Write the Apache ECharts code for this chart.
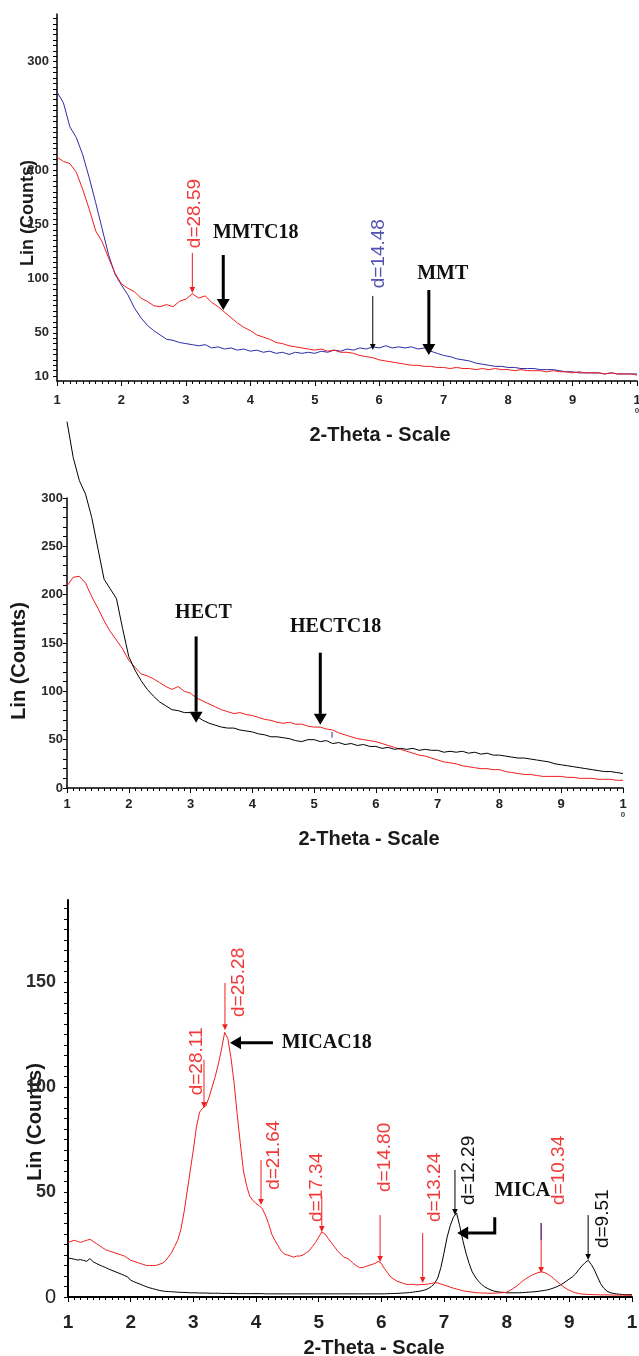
<!DOCTYPE html>
<html>
<head>
<meta charset="utf-8">
<script src="https://cdn.jsdelivr.net/npm/echarts@6/dist/echarts.min.js"></script>
<style>
html,body{margin:0;padding:0;background:#fff;}
#c{width:639px;height:1356px;}
</style>
</head>
<body>
<div id="c"></div>
<script>
// ---------------- DATA ----------------
// sampling grids (2-theta, degrees)
const theta12 = Array.from({length: 91}, (_, i) => Math.round((1 + i * 0.1) * 100) / 100);
const theta3 = Array.from({length: 181}, (_, i) => Math.round((1 + i * 0.05) * 100) / 100);

const xTickValues = [1, 2, 3, 4, 5, 6, 7, 8, 9, 10];

// Panel 1 : MMT (blue) and MMTC18 (red)
const mmtCounts = [
  272,262,240,230,214,193,170,146,122,104,
  94,85,73,64,57,52,48,44,43,41,
  40,39,38,39,36,37,35,36,34,35,
  33,34,32,33,31,32,30,32,31,32,
  31,33,32,34,33,35,34,36,35,37,
  36,38,36,37,36,37,35,36,33,31,
  29,28,26,25,24,22,21,20,19,19,
  18,18,17,17,17,16,16,16,15,14,
  14,13,13,13,13,12,13,12,12,12,
  12];
const mmtC18Counts = [
  212,208,206,198,182,164,144,134,119,105,
  95,91,88,82,79,75,74,76,74,79,
  81,86,82,84,78,74,69,64,59,55,
  52,48,46,44,41,40,38,37,36,35,
  34,35,33,34,32,32,31,29,28,27,
  25,24,23,22,21,20,20,19,19,18,
  18,17,18,17,17,16,17,16,17,16,
  16,15,16,15,15,15,14,15,14,14,
  13,14,13,13,13,12,13,12,12,12,
  11];

// Panel 2 : HECT (black) and HECTC18 (red)
const hectCounts = [
  379,342,318,304,280,248,216,206,196,165,
  136,122,111,102,95,89,85,81,80,78,
  78,74,70,67,65,63,62,62,60,59,
  58,56,55,53,53,52,51,49,48,50,
  50,48,49,46,47,45,46,44,45,43,
  43,41,42,40,41,40,41,39,40,39,
  39,37,38,37,38,36,37,35,36,34,
  34,33,32,31,31,30,29,28,27,25,
  24,23,22,21,20,19,18,17,17,16,
  15];
const hectC18Counts = [
  209,218,219,212,198,186,173,162,153,144,
  132,125,118,116,113,109,105,102,105,100,
  98,93,90,87,84,81,79,77,78,76,
  75,73,71,70,68,67,68,66,66,64,
  63,63,61,60,57,55,53,51,50,49,
  48,46,44,42,40,38,36,34,33,31,
  29,27,26,25,23,22,21,20,20,19,
  19,17,16,15,14,14,13,12,12,12,
  12,11,11,10,10,10,9,9,9,8,
  8];

// Panel 3 : MICA (black) and MICAC18 (red), step 0.05
const micaC18Counts = [
  26,26.5,27,26.5,26,26.5,27,27.5,26.5,25.5,24.5,23.5,22.5,22,21.5,21,20.5,20,19.5,18.5,
  17.5,17,16.5,16,15.5,15,15,15,15,15.5,16,17,19,21,24,27,32,40,50,60,
  70,81,88,90,91,95,100,105,111,118,126,123,114,102,87,73,60,53,48,46,
  44.5,43.5,42,39,35,30,27,24.5,22,20.5,20,19.5,19,19.5,19.5,20,21,22,24,26,
  28.5,31,30,28,26,24,22,20.5,19,18.5,17.5,16,15,14,14,14.5,15,15.5,16,17,
  16,13.5,11.5,9.5,8.5,7.5,7,6.5,6,6,6,5.8,5.8,6,6,6.2,6.5,6.8,6.7,6.2,
  5.7,5.2,4.7,4.2,3.8,3.4,3,2.7,2.5,2.3,2.1,2,1.9,1.9,1.8,1.8,1.8,1.9,2,2.1,
  2.3,3,4,5,6.2,7.5,8.6,9.5,10.3,11,11.6,12,11.7,11,10,8.8,7.5,6.2,5,4,
  3.2,2.5,2,1.6,1.4,1.3,1.2,1.2,1.1,1.1,1,1,1,1,0.9,0.9,0.9,0.9,0.8,0.8,
  0.8];
const micaCounts = [
  18.5,18.3,18,17.6,17.8,17.4,17,18.3,16.8,16,15.3,14.6,14,13.3,12.7,12.1,11.5,10.9,10.2,9.6,
  8,7.3,6.7,6.1,5.5,4.9,4.4,4,3.6,3.2,2.9,2.7,2.6,2.5,2.4,2.3,2.2,2.2,2.1,2,
  2,2,1.9,1.9,1.9,1.8,1.8,1.8,1.8,1.7,1.7,1.7,1.7,1.7,1.6,1.6,1.6,1.6,1.6,1.6,
  1.6,1.6,1.6,1.5,1.5,1.5,1.5,1.5,1.5,1.5,1.5,1.5,1.5,1.5,1.5,1.5,1.5,1.5,1.5,1.5,
  1.5,1.5,1.5,1.5,1.5,1.5,1.5,1.5,1.5,1.5,1.5,1.5,1.5,1.5,1.5,1.5,1.5,1.5,1.5,1.5,
  1.5,1.5,1.6,1.6,1.7,1.7,1.8,1.9,2,2.1,2.3,2.5,2.7,3,3.4,4,5,6.5,9,14,
  21,28.5,34,38,40,34,27,21,16,12,9.5,7.5,6,4.8,4,3.3,2.8,2.5,2.3,2.2,
  2,2,2,2,2,2.1,2.2,2.3,2.4,2.5,2.7,2.9,3.1,3.4,3.8,4.3,4.9,5.6,6.5,7.5,
  8.6,9.6,11,13,14.8,16.3,17.5,15.5,12.9,9.5,6.3,4.2,2.8,2.1,1.7,1.5,1.3,1.2,1.1,1.1,
  1.1];

// axis label values
const yLabels1 = [10, 50, 100, 150, 200, 300];
const yLabels2 = [0, 50, 100, 150, 200, 250, 300];
const yLabels3 = [0, 50, 100, 150];

// annotations, in data units (2-theta, counts)
const arrows1 = [
  {pts: [[3.10, 123.5], [3.10, 86.6]], c: 'red', head: 'thin'},
  {pts: [[3.58, 121.7], [3.58, 71]], c: 'black', head: 'thick'},
  {pts: [[5.90, 84], [5.90, 34]], c: 'black', head: 'thin'},
  {pts: [[6.77, 89.4], [6.77, 29.5]], c: 'black', head: 'thick'}
];
const labels1 = [
  {text: 'd=28.59', x: 3.13, y: 128, c: 'red', kind: 'd'},
  {text: 'd=14.48', x: 6.0, y: 91, c: 'blue', kind: 'd'},
  {text: 'MMTC18', x: 3.42, y: 142, c: 'black', kind: 'tag'},
  {text: 'MMT', x: 6.59, y: 104, c: 'black', kind: 'tag'}
];
const arrows2 = [
  {pts: [[3.09, 156.8], [3.09, 67.5]], c: 'black', head: 'thick'},
  {pts: [[5.10, 140], [5.10, 65.4]], c: 'black', head: 'thick'},
  {pts: [[5.29, 58], [5.29, 52]], c: 'blue', head: 'none'}
];
const labels2 = [
  {text: 'HECT', x: 2.75, y: 181.7, c: 'black', kind: 'tag'},
  {text: 'HECTC18', x: 4.61, y: 167, c: 'black', kind: 'tag'}
];
const arrows3 = [
  {pts: [[3.505, 149.5], [3.505, 127]], c: 'red', head: 'thin'},
  {pts: [[3.17, 112.9], [3.17, 90]], c: 'red', head: 'thin'},
  {pts: [[4.08, 65.2], [4.08, 43.8]], c: 'red', head: 'thin'},
  {pts: [[5.05, 48], [5.05, 31]], c: 'red', head: 'thin'},
  {pts: [[5.98, 39], [5.98, 16.7]], c: 'red', head: 'thin'},
  {pts: [[6.66, 30.5], [6.66, 6.7]], c: 'red', head: 'thin'},
  {pts: [[7.175, 60.5], [7.175, 39]], c: 'black', head: 'thin'},
  {pts: [[8.55, 35.2], [8.55, 11.4]], c: 'red', head: 'thin'},
  {pts: [[8.55, 35.2], [8.55, 27]], c: 'blue', head: 'none'},
  {pts: [[9.30, 39], [9.30, 17.6]], c: 'black', head: 'thin'},
  {pts: [[4.27, 121], [3.585, 121]], c: 'black', head: 'thick'},
  {pts: [[7.81, 38], [7.81, 30.5], [7.21, 30.5]], c: 'black', head: 'thick'}
];
const labels3 = [
  {text: 'd=25.28', x: 3.73, y: 133.3, c: 'red', kind: 'd'},
  {text: 'd=28.11', x: 3.05, y: 96, c: 'red', kind: 'd'},
  {text: 'd=21.64', x: 4.28, y: 51, c: 'red', kind: 'd'},
  {text: 'd=17.34', x: 4.97, y: 35.7, c: 'red', kind: 'd'},
  {text: 'd=14.80', x: 6.06, y: 50, c: 'red', kind: 'd'},
  {text: 'd=13.24', x: 6.86, y: 35.7, c: 'red', kind: 'd'},
  {text: 'd=12.29', x: 7.40, y: 43.8, c: 'black', kind: 'd'},
  {text: 'd=10.34', x: 8.83, y: 43.8, c: 'red', kind: 'd'},
  {text: 'd=9.51', x: 9.54, y: 23.3, c: 'black', kind: 'd'},
  {text: 'MICAC18', x: 4.41, y: 121, c: 'black', kind: 'tag'},
  {text: 'MICA', x: 7.81, y: 50.5, c: 'black', kind: 'tag'}
];

// ---------------- STYLE ----------------
const SANS = '"Liberation Sans", Arial, Helvetica, sans-serif';
const SERIF = '"Liberation Serif", "Times New Roman", serif';
const COL = {
  red: '#f01e1e', blue: '#2c2ca8', black: '#000000'
};
const TEXTCOL = {
  red: '#f03a3a', blue: '#5252b0', black: '#111111'
};

function steps(a, b, s) { const r = []; for (let v = a; v <= b + 1e-9; v += s) r.push(Math.round(v * 100) / 100); return r; }

function pairs(xs, ys) { return xs.map((x, i) => [x, ys[i]]); }

function xAxisCfg(gi, o) {
  return {
    type: 'value', gridIndex: gi, min: 1, max: 10, interval: 1,
    axisLine: {show: true, onZero: false, lineStyle: {color: '#000', width: o.lw}},
    axisTick: {show: true, length: 5, lineStyle: {color: '#000', width: 1}},
    minorTick: {show: true, splitNumber: 10, length: 3, lineStyle: {color: '#000', width: 1}},
    splitLine: {show: false}, minorSplitLine: {show: false},
    axisLabel: {
      show: true, margin: o.margin, color: '#222', fontFamily: SANS, fontWeight: 'bold', fontSize: o.fs,
      showMinLabel: true, showMaxLabel: true,
      formatter: function (v) {
        if (v === 10) return o.ten;
        return String(v);
      },
      rich: {
        a: {fontFamily: SANS, fontWeight: 'bold', fontSize: o.fs, color: '#222', lineHeight: o.fs},
        b: {fontFamily: SANS, fontSize: 8, color: '#444', lineHeight: 8}
      }
    },
    name: '2-Theta - Scale', nameLocation: 'middle', nameGap: o.nameGap, nameMoveOverlap: false,
    nameTextStyle: {fontFamily: SANS, fontWeight: 'bold', fontSize: 20, color: '#1a1a1a', padding: [0, 0, 0, o.nameShift]}
  };
}

function yAxisCfg(gi, o) {
  return {
    type: 'value', gridIndex: gi, min: o.min, max: o.max,
    axisLine: {show: true, onZero: false, lineStyle: {color: '#000', width: o.lw}},
    axisTick: {show: true, length: 4, customValues: o.ticks, lineStyle: {color: '#000', width: 1}},
    splitLine: {show: false},
    axisLabel: {
      show: true, customValues: o.labels, margin: o.margin, color: '#2a2a2a',
      fontFamily: SANS, fontWeight: 'bold', fontSize: o.fs,
      formatter: o.fmt || function (v) { return String(v); },
      rich: {z: {fontFamily: SANS, fontWeight: 'normal', fontSize: 20, color: '#222'}}
    },
    name: 'Lin (Counts)', nameLocation: 'middle', nameRotate: 90, nameGap: o.nameGap, nameMoveOverlap: false,
    nameTextStyle: {fontFamily: SANS, fontWeight: 'bold', fontSize: o.nfs, color: '#1a1a1a', padding: [0, o.nameShift, 0, 0]}
  };
}

function lineSeries(gi, xs, ys, color, clip) {
  return {
    type: 'line', xAxisIndex: gi, yAxisIndex: gi, data: pairs(xs, ys),
    showSymbol: false, symbol: 'none', silent: true, clip: clip,
    lineStyle: {color: color, width: 1}, itemStyle: {color: color}, z: 3
  };
}

function arrowSeries(gi, list) {
  return {
    type: 'custom', xAxisIndex: gi, yAxisIndex: gi, clip: false, silent: true, z: 5,
    data: list.map((a, i) => [a.pts[0][0], a.pts[0][1], i]),
    encode: {x: 0, y: 1},
    renderItem: function (params, api) {
      const a = list[params.dataIndex];
      const P = a.pts.map(p => api.coord(p));
      const color = COL[a.c];
      const thick = a.head === 'thick';
      const children = [];
      const n = P.length;
      let tip = P[n - 1], prev = P[n - 2];
      const ang = Math.atan2(tip[1] - prev[1], tip[0] - prev[0]);
      const L = thick ? 11 : 6, W = thick ? 6.5 : 2.8;
      const bx = tip[0] - L * Math.cos(ang), by = tip[1] - L * Math.sin(ang);
      const shaft = P.slice();
      if (a.head !== 'none') shaft[n - 1] = [bx, by];
      children.push({type: 'polyline', shape: {points: shaft},
        style: {stroke: color, lineWidth: thick ? 3 : 1, fill: null, lineJoin: 'miter'}});
      if (a.head !== 'none') {
        const nx = -Math.sin(ang), ny = Math.cos(ang);
        children.push({type: 'polygon', shape: {points: [[tip[0], tip[1]], [bx + W * nx, by + W * ny], [bx - W * nx, by - W * ny]]},
          style: {fill: color, stroke: null}});
      }
      return {type: 'group', children: children};
    }
  };
}

function labelSeries(gi, list) {
  return {
    type: 'custom', xAxisIndex: gi, yAxisIndex: gi, clip: false, silent: true, z: 6,
    data: list.map((t, i) => [t.x, t.y, i]),
    encode: {x: 0, y: 1},
    renderItem: function (params, api) {
      const t = list[params.dataIndex];
      const p = api.coord([t.x, t.y]);
      if (t.kind === 'd') {
        return {type: 'text', x: p[0], y: p[1], rotation: Math.PI / 2,
          style: {text: t.text, fill: TEXTCOL[t.c], fontFamily: SANS, fontSize: 19, fontWeight: 'normal',
            align: 'left', verticalAlign: 'middle'}};
      }
      return {type: 'text', x: p[0], y: p[1],
        style: {text: t.text, fill: '#111', fontFamily: SERIF, fontSize: 20, fontWeight: 'bold',
          align: 'left', verticalAlign: 'middle'}};
    }
  };
}

const option = {
  animation: false,
  backgroundColor: '#ffffff',
  grid: [
    {left: 57, right: 2, top: 14, height: 367, containLabel: false, outerBoundsMode: 'none'},
    {left: 67, right: 16, top: 498, height: 290, containLabel: false, outerBoundsMode: 'none'},
    {left: 68, right: 7, top: 900, height: 397, containLabel: false, outerBoundsMode: 'none'}
  ],
  xAxis: [
    xAxisCfg(0, {lw: 1.5, fs: 13, margin: 13, ten: '{a|1}\n{b|0}', nameGap: 44, nameShift: 66}),
    xAxisCfg(1, {lw: 1.5, fs: 13, margin: 10, ten: '{a|1}\n{b|0}', nameGap: 41, nameShift: 48}),
    xAxisCfg(2, {lw: 2, fs: 19, margin: 16, ten: '1', nameGap: 41, nameShift: 48})
  ],
  yAxis: [
    yAxisCfg(0, {min: 5.5, max: 344, lw: 1.5, labels: yLabels1, ticks: steps(10, 340, 5), margin: 8, fs: 13,
      nameGap: 20, nfs: 18, nameShift: 31}),
    yAxisCfg(1, {min: 0, max: 300, lw: 1.5, labels: yLabels2, ticks: steps(0, 300, 10), margin: 4, fs: 13,
      nameGap: 38, nfs: 20, nameShift: 36}),
    yAxisCfg(2, {min: 0, max: 189, lw: 2, labels: yLabels3, ticks: steps(0, 185, 5), margin: 12, fs: 18,
      nameGap: 23, nfs: 20, nameShift: 47,
      fmt: function (v) { return v === 0 ? '{z|0}' : String(v); }})
  ],
  series: [
    lineSeries(0, theta12, mmtCounts, COL.blue, true),
    lineSeries(0, theta12, mmtC18Counts, COL.red, true),
    lineSeries(1, theta12, hectC18Counts, COL.red, true),
    lineSeries(1, theta12, hectCounts, COL.black, false),
    lineSeries(2, theta3, micaCounts, COL.black, true),
    lineSeries(2, theta3, micaC18Counts, COL.red, true),
    arrowSeries(0, arrows1), labelSeries(0, labels1),
    arrowSeries(1, arrows2), labelSeries(1, labels2),
    arrowSeries(2, arrows3), labelSeries(2, labels3)
  ]
};

const chart = echarts.init(document.getElementById('c'), null, {renderer: 'canvas', width: 639, height: 1356});
chart.setOption(option);
</script>
</body>
</html>
